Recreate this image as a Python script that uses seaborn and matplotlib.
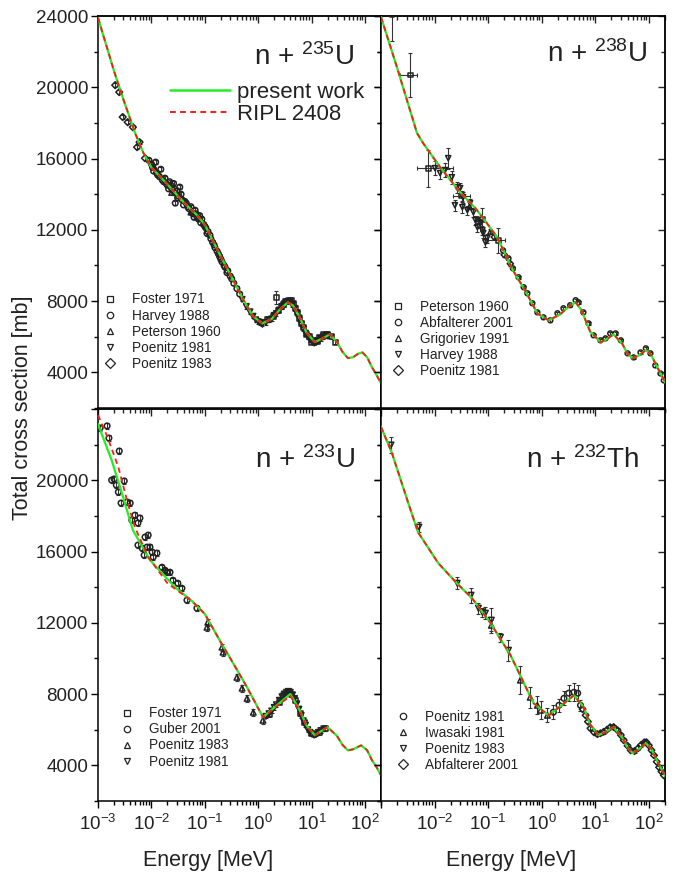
import matplotlib
matplotlib.use("Agg")
import matplotlib.pyplot as plt
from matplotlib.lines import Line2D
from matplotlib.ticker import MultipleLocator, LogLocator, NullFormatter
import seaborn as sns

# ---------------- curves ----------------
U235_E = [0.001, 0.002, 0.003, 0.005, 0.007, 0.01, 0.02, 0.04, 0.07, 0.1, 0.2, 0.3, 0.5, 0.8,
          1.2, 1.8, 2.5, 3.6, 4.5, 6, 8, 11.5, 16, 22, 30, 38, 48, 60, 75, 90, 110, 135, 165, 200]
U235_PRESENT = [23900, 20900, 19300, 17400, 16350, 15500, 14550, 13550, 12850, 12300, 10500, 9500,
                8200, 7150, 6750, 7000, 7500, 7930, 7750, 7100, 6250, 5700, 5900, 6130, 5700,
                5150, 4800, 4850, 5050, 5120, 4850, 4300, 3850, 3400]
U235_RIPL = U235_PRESENT

U238_E = [0.001, 0.002, 0.0047, 0.0061, 0.0127, 0.03, 0.058, 0.081, 0.148, 0.29, 0.5, 0.83,
          1.35, 2.2, 3.2, 4.3, 5.5, 8, 12.6, 16, 22, 32, 40, 50, 65, 88, 110, 140, 175, 208]
U238_PRESENT = [23950, 21100, 17430, 16870, 15520, 14110, 13210, 12650, 11580, 9730, 8550, 7310,
                6920, 7250, 7700, 7930, 7500, 6300, 5690, 5850, 6130, 5600, 5050, 4790, 4950,
                5240, 5000, 4350, 3800, 3380]
U238_RIPL = U238_PRESENT

U233_E = [0.001, 0.0018, 0.0028, 0.0045, 0.0094, 0.0276, 0.058, 0.1, 0.19, 0.3, 0.62, 1.23,
          2.2, 4.0, 6, 8, 11.5, 20, 30, 38, 48, 60, 85, 110, 135, 165, 200]
U233_PRESENT = [23150, 21130, 19280, 17200, 15520, 14000, 13210, 12500, 11020, 10010, 8380, 6700,
                7350, 8000, 7100, 6250, 5690, 6140, 5650, 5150, 4840, 4900, 5120, 4850, 4300,
                3900, 3450]
U233_RIPL_E = [0.001, 0.0015, 0.0024, 0.0036, 0.0049, 0.0087, 0.02, 0.058, 0.1, 0.19, 0.3, 0.62,
               1.23, 2.2, 4.0, 6, 8, 11.5, 20, 30, 38, 48, 60, 85, 110, 135, 165, 200]
U233_RIPL = [23660, 22430, 20740, 18720, 17370, 15690, 14220, 13210, 12500, 11020, 10010, 8380,
             6700, 7300, 7900, 7050, 6200, 5690, 6140, 5650, 5150, 4840, 4900, 5120, 4850, 4300,
             3900, 3450]

TH232_E = [0.001, 0.0016, 0.0031, 0.0049, 0.0117, 0.026, 0.05, 0.11, 0.26, 0.54, 0.71, 1.35,
           2.2, 4.0, 6, 8, 11.5, 16, 22, 32, 40, 50, 65, 88, 110, 140, 175, 208]
TH232_PRESENT = [23000, 21530, 18890, 17090, 15350, 14220, 13380, 12000, 10200, 8210, 7480, 6800,
                 7300, 7930, 7300, 6300, 5690, 5900, 6140, 5550, 5000, 4680, 4900, 5240, 4950,
                 4300, 3750, 3330]
TH232_RIPL = TH232_PRESENT

# ---------------- experimental data: n + 235U ----------------
U235_FOSTER_E = [2.2, 1.5, 1.9, 2.4, 2.7, 3.0, 3.3, 3.9, 4.2, 4.6, 5.0, 5.5, 6.0, 6.6, 7.2, 8.0,
                 9.0, 10, 11.7, 13, 14, 17, 19, 20, 24, 28]
U235_FOSTER_S = [8210, 6950, 7150, 7450, 7700, 7800, 8000, 8050, 8050, 7850, 7600, 7350, 7000,
                 6750, 6500, 6150, 6000, 5700, 5800, 5750, 5950, 6100, 6150, 6150, 6000, 5700]
U235_FOSTER_ERR = [350] + [120] * 25
U235_HARVEY_E = [0.009, 0.010, 0.011, 0.012, 0.013, 0.015, 0.016, 0.018, 0.020, 0.022, 0.024,
                 0.026, 0.028, 0.030, 0.032, 0.034, 0.037, 0.040, 0.045, 0.050, 0.055, 0.060,
                 0.066, 0.072, 0.080, 0.088, 0.095, 0.105, 0.115, 0.125, 0.14, 0.155, 0.17,
                 0.19, 0.21, 0.24, 0.27, 0.30, 0.35, 0.40, 0.45,
                 0.0105, 0.0125, 0.014, 0.017, 0.019, 0.021, 0.023, 0.027, 0.031, 0.036, 0.042,
                 0.048, 0.058, 0.063, 0.069, 0.076, 0.084, 0.1, 0.11, 0.13, 0.15, 0.18, 0.2,
                 0.23, 0.26, 0.32]
U235_HARVEY_S = [15900, 15700, 15300, 15800, 15100, 15400, 14800, 14900, 14500, 14700, 14300,
                 14600, 13500, 14200, 13900, 14400, 13700, 13400, 13500, 13200, 13300, 12900,
                 13100, 12700, 12800, 12600, 12300, 12100, 11900, 11700, 11300, 11000, 10800,
                 10500, 10200, 9900, 9700, 9400, 9000, 8700, 8400,
                 15500, 15200, 15000, 14700, 14600, 14300, 14500, 14100, 13800, 14000, 13600,
                 13300, 12950, 12700, 12900, 12600, 12400, 12200, 11800, 11500, 11150, 10650,
                 10350, 10000, 9600, 9250]
U235_PETERSON_E = [0.011, 0.024, 0.055]
U235_PETERSON_S = [15600, 14100, 13000]
U235_POEN81_E = [0.5, 0.6, 0.7, 0.8, 0.9, 1.0, 1.1, 1.2, 1.4, 1.6, 1.8, 2.0, 2.2, 2.5, 2.8, 3.1,
                 3.4, 3.7, 4.0, 4.4, 4.8, 5.3, 5.8, 6.4, 7.0, 7.7, 8.5, 9.3, 10.2, 11.2, 12.3,
                 13.5, 15, 16.5, 18, 20]
U235_POEN81_S = [8100, 7700, 7400, 7150, 6950, 6850, 6800, 6700, 6800, 6950, 7000, 7200, 7300,
                 7500, 7700, 7850, 7950, 8000, 7950, 7800, 7600, 7300, 7050, 6700, 6450, 6200,
                 6000, 5850, 5750, 5650, 5700, 5800, 5900, 6000, 6050, 6050]
U235_POEN83_E = [0.0021, 0.0025, 0.0029, 0.0036, 0.0045, 0.0054, 0.006, 0.0076]
U235_POEN83_S = [20120, 19730, 18330, 18040, 17760, 16640, 16920, 16020]

# ---------------- experimental data: n + 238U ----------------
U238_PETERSON_E = [0.0016, 0.0035, 0.0076, 0.032, 0.078, 0.155]
U238_PETERSON_S = [24100, 20690, 15460, 13900, 12600, 11420]
U238_PETERSON_ERR = [1500, 1260, 1040, 300, 650, 700]
U238_PETERSON_XLO = [0, 0.0012, 0.0029, 0.010, 0, 0.055]
U238_PETERSON_XHI = [0, 0.0012, 0.0147, 0.014, 0, 0.055]
U238_ABF_E = [0.19, 0.24, 0.29, 0.37, 0.46, 0.54, 0.67, 0.83, 1.08, 1.45, 1.97, 2.55, 3.4, 4.3,
              4.9, 6.0, 7.5, 9.3, 12.5, 15.5, 19, 24, 30, 40, 52, 70, 88, 107, 132, 165, 190]
U238_ABF_S = [10850, 10400, 9840, 9340, 8780, 8440, 7880, 7370, 7090, 6920, 7320, 7600, 7770,
              8050, 7930, 7370, 6750, 6080, 5800, 5910, 6190, 6190, 5800, 5070, 4840, 5120,
              5350, 5070, 4390, 3940, 3550]
U238_GRIG_E = [0.045, 0.065, 0.11]
U238_GRIG_S = [13300, 12600, 11900]
U238_HARVEY_E = [0.0102, 0.0127, 0.0157, 0.018, 0.021, 0.026, 0.030, 0.034, 0.024, 0.033, 0.046,
                 0.041, 0.053, 0.058, 0.063, 0.072, 0.078, 0.081, 0.089, 0.096]
U238_HARVEY_S = [15460, 15180, 15350, 16020, 14950, 14390, 14340, 13830, 13380, 13270, 13500,
                 13100, 12990, 12540, 12150, 12370, 11980, 11810, 11300, 11530]
U238_HARVEY_ERR = [400, 350, 400, 600, 350, 300, 300, 300, 300, 300, 250, 250, 250, 250, 250,
                   250, 250, 250, 250, 250]
U238_POEN81_E = [0.13, 0.2, 0.26]
U238_POEN81_S = [11600, 10600, 10100]

# ---------------- experimental data: n + 233U ----------------
U233_FOSTER_E = [1.6, 2.5, 3.0, 3.5, 4.2, 5, 6.2, 7.5, 10, 14, 18]
U233_FOSTER_S = [6850, 7550, 7900, 8050, 8000, 7650, 6900, 6400, 5800, 5850, 6050]
U233_GUBER_E = [0.00109, 0.00148, 0.0016, 0.0025, 0.0018, 0.002, 0.0022, 0.0024, 0.0031, 0.0027,
                0.0035, 0.0040, 0.0049, 0.0043, 0.0061, 0.0056, 0.0076, 0.0087, 0.0056, 0.0067,
                0.0083, 0.0073, 0.0094, 0.0103, 0.0108, 0.0127, 0.0158, 0.018, 0.0196, 0.0223,
                0.0254, 0.0313, 0.0373, 0.0464, 0.0713]
U233_GUBER_S = [22930, 23050, 22370, 21640, 20010, 20070, 19730, 19340, 19960, 18720, 18780,
                18720, 18040, 17760, 17880, 17600, 16810, 16920, 16360, 16190, 16250, 15800,
                16250, 15970, 15690, 15910, 15120, 14950, 14840, 14840, 14390, 14220, 13940,
                13270, 12820]
U233_POEN83_E = [0.11, 0.114, 0.21, 0.22, 0.40, 0.50, 0.62, 0.81, 1.23]
U233_POEN83_S = [11750, 12030, 10630, 10350, 8940, 8330, 7760, 6980, 6530]
U233_POEN81_E = [1.4, 1.6, 1.8, 2.0, 2.2, 2.5, 2.8, 3.1, 3.4, 3.7, 4.0, 4.4, 4.8, 5.3, 5.8, 6.4,
                 7.0, 7.7, 8.5, 9.3, 10.2, 11.2, 12.3, 13.5, 15, 17]
U233_POEN81_S = [6750, 6900, 7050, 7250, 7400, 7650, 7850, 8000, 8100, 8150, 8100, 7950, 7750,
                 7450, 7150, 6800, 6500, 6250, 6000, 5850, 5750, 5700, 5750, 5850, 5950, 6050]

# ---------------- experimental data: n + 232Th ----------------
TH_POEN81_E = [1.65, 2.1, 2.6, 3.2, 4.0, 4.7, 5.3]
TH_POEN81_S = [6980, 7370, 7760, 8050, 8100, 8050, 7370]
TH_POEN81_ERR = [400, 350, 400, 450, 500, 450, 300]
TH_IWASAKI_E = [0.115, 0.40, 0.61, 0.83, 0.95, 1.28]
TH_IWASAKI_S = [11860, 8780, 7820, 7370, 7090, 6810]
TH_IWASAKI_ERR = [300, 790, 600, 500, 500, 400]
TH_POEN83_E = [0.00154, 0.0051, 0.0265, 0.048, 0.066, 0.078, 0.089, 0.115, 0.17, 0.24]
TH_POEN83_S = [21980, 17370, 14220, 13550, 12820, 12600, 12540, 12150, 11190, 10460]
TH_POEN83_ERR = [450, 300, 330, 420, 300, 250, 350, 700, 250, 600]
TH_ABF_E = [5.8, 6.6, 7.3, 8.1, 9.5, 11, 12.5, 14.3, 16.5, 19, 22, 26, 30, 34, 40, 46, 54, 63,
            72, 82, 90, 100, 112, 125, 140, 155, 172, 190]
TH_ABF_S = [7150, 6810, 6450, 6080, 5850, 5750, 5800, 5880, 6000, 6140, 6150, 5970, 5700, 5410,
            5100, 4840, 4800, 4960, 5150, 5290, 5300, 5120, 4850, 4560, 4200, 3890, 3650, 3440]

# ---------------- styling ----------------
sns.set_theme(style="ticks")
plt.rcParams['font.family'] = ['Liberation Sans', 'DejaVu Sans']
plt.rcParams['mathtext.fontset'] = 'custom'
plt.rcParams['mathtext.rm'] = 'Liberation Sans'
plt.rcParams['mathtext.it'] = 'Liberation Sans:italic'
plt.rcParams['mathtext.bf'] = 'Liberation Sans:bold'
plt.rcParams['axes.linewidth'] = 1.1

GREEN = '#22ee22'
RED = '#ff1a1a'
INK = '#222222'
XMIN, XMAX = 1e-3, 200
YMIN, YMAX = 2000, 24000

fig = plt.figure(figsize=(6.83, 8.75), dpi=100)
ax_tl = fig.add_axes([0.1435, 0.5337, 0.4143, 0.448])
ax_tr = fig.add_axes([0.5578, 0.5337, 0.4158, 0.448])
ax_bl = fig.add_axes([0.1435, 0.0846, 0.4143, 0.448])
ax_br = fig.add_axes([0.5578, 0.0846, 0.4158, 0.448])


def draw_curves(ax, e_p, s_p, e_r, s_r):
    sns.lineplot(x=e_p, y=s_p, ax=ax, color=GREEN, lw=1.6, sort=False, estimator=None, zorder=4)
    sns.lineplot(x=e_r, y=s_r, ax=ax, color=RED, lw=1.3, sort=False, estimator=None, zorder=5)
    ax.lines[-1].set_dashes([3.0, 2.2])


def draw_data(ax, e, s, marker, err=120, xerr=None, size=16):
    ax.errorbar(e, s, yerr=err, xerr=xerr, fmt='none', ecolor='#333333', elinewidth=0.8,
                capsize=1.6, capthick=0.8, zorder=2)
    sns.scatterplot(x=e, y=s, ax=ax, marker=marker, s=size, facecolors='none',
                    edgecolor=INK, linewidth=1.1, zorder=3)


def setup_axes(ax, left_col, top_row):
    ax.set_xscale('log')
    ax.set_xlim(XMIN, XMAX)
    ax.set_ylim(YMIN, YMAX)
    ax.set_xlabel('')
    ax.set_ylabel('')
    decades = [1e-3, 1e-2, 1e-1, 1, 10, 100]
    ax.set_xticks(decades)
    labels = [r'$10^{-3}$', r'$10^{-2}$', r'$10^{-1}$', r'$10^{0}$', r'$10^{1}$', r'$10^{2}$']
    if not left_col:
        labels[0] = ''
    if top_row:
        labels = [''] * 6
    ax.set_xticklabels(labels)
    ax.xaxis.set_minor_locator(LogLocator(base=10, subs=range(2, 10), numticks=20))
    ax.xaxis.set_minor_formatter(NullFormatter())
    yt = [4000, 8000, 12000, 16000, 20000, 24000]
    ax.set_yticks(yt)
    if left_col:
        ylab = [str(v) for v in yt]
        if not top_row:
            ylab[-1] = ''
        ax.set_yticklabels(ylab)
    else:
        ax.set_yticklabels([''] * len(yt))
    ax.yaxis.set_minor_locator(MultipleLocator(2000))
    ax.tick_params(which='both', direction='out', colors='black', labelcolor=INK,
                   labelsize=13.5, width=1.0)
    ax.tick_params(which='major', length=5)
    ax.tick_params(which='minor', length=3)
    ax.tick_params(axis='x', pad=4)
    ax.tick_params(axis='y', pad=2)
    for sp in ax.spines.values():
        sp.set_visible(True)
        sp.set_color('black')

    top = ax.secondary_xaxis('top')
    top.set_xticks(decades)
    top.xaxis.set_minor_locator(LogLocator(base=10, subs=range(2, 10), numticks=20))
    top.xaxis.set_minor_formatter(NullFormatter())
    top.tick_params(which='both', direction='in', labeltop=False, width=1.0)
    top.tick_params(which='major', length=5)
    top.tick_params(which='minor', length=3)
    right = ax.secondary_yaxis('right')
    right.set_yticks(yt)
    right.yaxis.set_minor_locator(MultipleLocator(2000))
    right.tick_params(which='both', direction='in', labelright=False, width=1.0)
    right.tick_params(which='major', length=5)
    right.tick_params(which='minor', length=3)


def marker_legend(ax, entries, anchor):
    handles = [Line2D([], [], ls='none', marker=m, ms=4.6, mfc='none', mec=INK, mew=0.9)
               for _, m in entries]
    leg = ax.legend(handles, [lab for lab, _ in entries], loc='center left',
                    bbox_to_anchor=anchor, frameon=False, fontsize=9.8, handlelength=1.0,
                    handletextpad=1.1, labelspacing=0.15, borderpad=0, borderaxespad=0)
    for t in leg.get_texts():
        t.set_color(INK)
    return leg


# ---- n + 235U ----
draw_curves(ax_tl, U235_E, U235_PRESENT, U235_E, U235_RIPL)
draw_data(ax_tl, U235_POEN83_E, U235_POEN83_S, 'D', size=12)
draw_data(ax_tl, U235_HARVEY_E, U235_HARVEY_S, 'o')
draw_data(ax_tl, U235_PETERSON_E, U235_PETERSON_S, '^')
draw_data(ax_tl, U235_POEN81_E, U235_POEN81_S, 'v')
draw_data(ax_tl, U235_FOSTER_E, U235_FOSTER_S, 's', err=U235_FOSTER_ERR, size=13)
setup_axes(ax_tl, True, True)
ax_tl.text(0.728, 0.875, r'n + $^{235}$U', transform=ax_tl.transAxes, ha='center',
           va='baseline', fontsize=20, color=INK)
curve_handles = [Line2D([], [], color=GREEN, lw=1.8),
                 Line2D([], [], color=RED, lw=1.4, dashes=[3.0, 2.2])]
leg1 = ax_tl.legend(curve_handles, ['present work', 'RIPL 2408'], loc='center left',
                    bbox_to_anchor=(0.254, 0.777), frameon=False, fontsize=16,
                    handlelength=2.7, handletextpad=0.3, labelspacing=0.05, borderpad=0,
                    borderaxespad=0)
for t in leg1.get_texts():
    t.set_color(INK)
ax_tl.add_artist(leg1)
marker_legend(ax_tl, [('Foster 1971', 's'), ('Harvey 1988', 'o'), ('Peterson 1960', '^'),
                      ('Poenitz 1981', 'v'), ('Poenitz 1983', 'D')], (0.018, 0.195))

# ---- n + 238U ----
draw_curves(ax_tr, U238_E, U238_PRESENT, U238_E, U238_RIPL)
draw_data(ax_tr, U238_PETERSON_E, U238_PETERSON_S, 's', err=U238_PETERSON_ERR,
          xerr=[U238_PETERSON_XLO, U238_PETERSON_XHI], size=12)
draw_data(ax_tr, U238_ABF_E, U238_ABF_S, 'o', err=90, size=12)
draw_data(ax_tr, U238_GRIG_E, U238_GRIG_S, '^', size=13)
draw_data(ax_tr, U238_HARVEY_E, U238_HARVEY_S, 'v', err=U238_HARVEY_ERR, size=14)
draw_data(ax_tr, U238_POEN81_E, U238_POEN81_S, 'D', size=10)
setup_axes(ax_tr, False, True)
ax_tr.text(0.76, 0.883, r'n + $^{238}$U', transform=ax_tr.transAxes, ha='center',
           va='baseline', fontsize=20, color=INK)
marker_legend(ax_tr, [('Peterson 1960', 's'), ('Abfalterer 2001', 'o'), ('Grigoriev 1991', '^'),
                      ('Harvey 1988', 'v'), ('Poenitz 1981', 'D')], (0.035, 0.177))

# ---- n + 233U ----
draw_curves(ax_bl, U233_E, U233_PRESENT, U233_RIPL_E, U233_RIPL)
draw_data(ax_bl, U233_GUBER_E, U233_GUBER_S, 'o', err=150)
draw_data(ax_bl, U233_POEN83_E, U233_POEN83_S, '^', err=200)
draw_data(ax_bl, U233_POEN81_E, U233_POEN81_S, 'v')
draw_data(ax_bl, U233_FOSTER_E, U233_FOSTER_S, 's', size=13)
setup_axes(ax_bl, True, False)
ax_bl.text(0.731, 0.849, r'n + $^{233}$U', transform=ax_bl.transAxes, ha='center',
           va='baseline', fontsize=20, color=INK)
marker_legend(ax_bl, [('Foster 1971', 's'), ('Guber 2001', 'o'), ('Poenitz 1983', '^'),
                      ('Poenitz 1981', 'v')], (0.078, 0.162))

# ---- n + 232Th ----
draw_curves(ax_br, TH232_E, TH232_PRESENT, TH232_E, TH232_RIPL)
draw_data(ax_br, TH_POEN83_E, TH_POEN83_S, 'v', err=TH_POEN83_ERR)
draw_data(ax_br, TH_IWASAKI_E, TH_IWASAKI_S, '^', err=TH_IWASAKI_ERR)
draw_data(ax_br, TH_POEN81_E, TH_POEN81_S, 'o', err=TH_POEN81_ERR)
draw_data(ax_br, TH_ABF_E, TH_ABF_S, 'D', err=100, size=11)
setup_axes(ax_br, False, False)
ax_br.text(0.711, 0.849, r'n + $^{232}$Th', transform=ax_br.transAxes, ha='center',
           va='baseline', fontsize=20, color=INK)
marker_legend(ax_br, [('Poenitz 1981', 'o'), ('Iwasaki 1981', '^'), ('Poenitz 1983', 'v'),
                      ('Abfalterer 2001', 'D')], (0.053, 0.153))

fig.text(0.033, 0.534, 'Total cross section [mb]', rotation=90, ha='center', va='center',
         fontsize=15.5, color=INK)
fig.text(0.305, 0.017, 'Energy [MeV]', ha='center', va='center', fontsize=15.5, color=INK)
fig.text(0.748, 0.017, 'Energy [MeV]', ha='center', va='center', fontsize=15.5, color=INK)

fig.savefig('out.png', dpi=100)
